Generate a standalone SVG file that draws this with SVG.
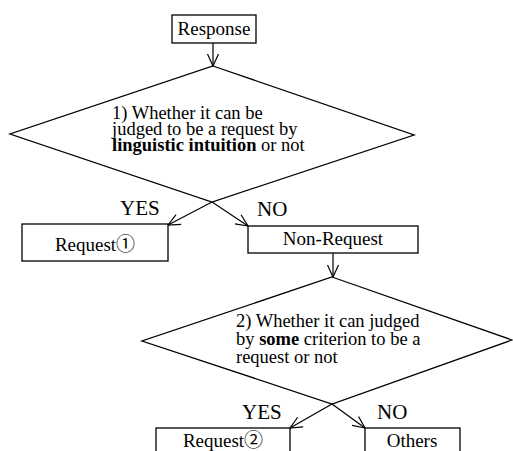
<svg xmlns="http://www.w3.org/2000/svg" width="513" height="451" viewBox="0 0 513 451">
<style>
.box{fill:#fff;stroke:#000;stroke-width:1.3}
.dia{fill:none;stroke:#000;stroke-width:1.3}
.ln{fill:none;stroke:#000;stroke-width:1.2}
</style>
<defs>
<marker id="ah" viewBox="0 0 14 14" refX="13" refY="7" markerWidth="14" markerHeight="14" markerUnits="userSpaceOnUse" orient="auto">
<path d="M1,1.5 L13,7 L1,12.5" fill="none" stroke="#000" stroke-width="1.2"/>
</marker>
</defs>
<g id="connectors">
<line class="ln" x1="213" y1="43" x2="213" y2="66" marker-end="url(#ah)"/>
<line class="ln" x1="212" y1="202" x2="168" y2="225" marker-end="url(#ah)"/>
<line class="ln" x1="212" y1="202" x2="248" y2="226" marker-end="url(#ah)"/>
<line class="ln" x1="333" y1="253" x2="333" y2="277" marker-end="url(#ah)"/>
<line class="ln" x1="332" y1="404" x2="290" y2="428" marker-end="url(#ah)"/>
<line class="ln" x1="332" y1="404" x2="365" y2="428" marker-end="url(#ah)"/>
<g font-family="'Liberation Serif', 'Times New Roman', serif" font-size="21" fill="#000">
<text x="120" y="215">YES</text>
<text x="257" y="216">NO</text>
<text x="242" y="419">YES</text>
<text x="377" y="419">NO</text>
</g>
</g>
<g id="response" font-family="'Liberation Serif', 'Times New Roman', serif" font-size="19" fill="#000">
<rect class="box" x="172" y="15" width="84" height="28"/>
<text x="214" y="35" text-anchor="middle">Response</text>
</g>
<g id="decision1" font-family="'Liberation Serif', 'Times New Roman', serif" font-size="18.5" fill="#000">
<polygon class="dia" points="213,66 414,135 212,202 10,134"/>
<text x="112" y="119">1) Whether it can be</text>
<text x="112" y="135">judged to be a request by</text>
<text x="112" y="151"><tspan font-weight="bold">linguistic intuition</tspan> or not</text>
</g>
<g id="request1" font-family="'Liberation Serif', 'Noto Sans CJK JP', serif" font-size="19" fill="#000">
<rect class="box" x="22" y="224" width="146" height="37"/>
<text x="95" y="251" text-anchor="middle">Request①</text>
</g>
<g id="nonrequest" font-family="'Liberation Serif', 'Times New Roman', serif" font-size="19" fill="#000">
<rect class="box" x="248" y="226" width="170" height="27"/>
<text x="333" y="245" text-anchor="middle">Non-Request</text>
</g>
<g id="decision2" font-family="'Liberation Serif', 'Times New Roman', serif" font-size="18.5" fill="#000">
<polygon class="dia" points="332,277 512,340 332,404 142,341"/>
<text x="236" y="327">2) Whether it can judged</text>
<text x="236" y="345">by <tspan font-weight="bold">some</tspan> criterion to be a</text>
<text x="236" y="363">request or not</text>
</g>
<g id="request2" font-family="'Liberation Serif', 'Noto Sans CJK JP', serif" font-size="19" fill="#000">
<rect class="box" x="156" y="428" width="134" height="30"/>
<text x="223" y="447" text-anchor="middle">Request②</text>
</g>
<g id="others" font-family="'Liberation Serif', 'Times New Roman', serif" font-size="19" fill="#000">
<rect class="box" x="365" y="428" width="95" height="30"/>
<text x="412" y="447" text-anchor="middle">Others</text>
</g>
</svg>
